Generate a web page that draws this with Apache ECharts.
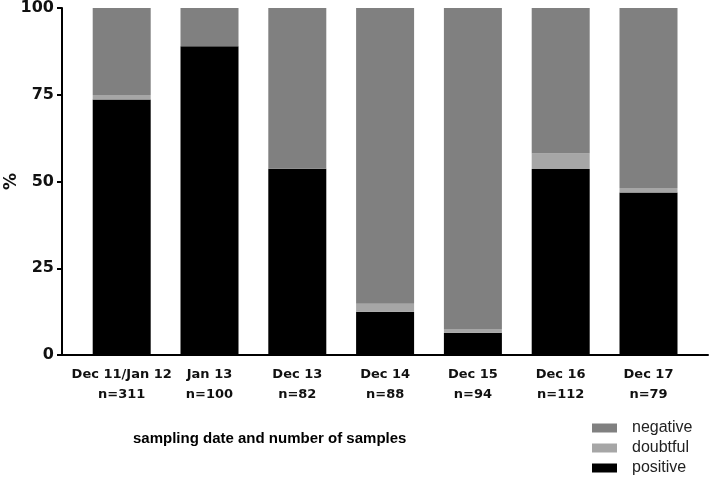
<!DOCTYPE html>
<html>
<head>
<meta charset="utf-8">
<script src="https://cdn.jsdelivr.net/npm/echarts@6/dist/echarts.min.js"></script>
<style>html,body{margin:0;padding:0;background:#fff;}#c{width:709px;height:477px;}</style>
</head>
<body>
<div id="c"></div>
<script>
const dates = ['Dec 11/Jan 12', 'Jan 13', 'Dec 13', 'Dec 14', 'Dec 15', 'Dec 16', 'Dec 17'];
const sampleCounts = ['n=311', 'n=100', 'n=82', 'n=88', 'n=94', 'n=112', 'n=79'];
const positive = [73.6, 89.0, 53.7, 12.5, 6.4, 53.6, 46.8];
const doubtful = [1.3, 0, 0, 2.3, 1.1, 4.5, 1.3];
const negative = [25.1, 11.0, 46.3, 85.2, 92.5, 41.9, 51.9];
const yTicks = [0, 25, 50, 75, 100];

const categories = dates.map((d, i) => d + '\n' + sampleCounts[i]);

const chart = echarts.init(document.getElementById('c'), null, {renderer: 'canvas'});
chart.setOption({
  animation: false,
  backgroundColor: '#fff',
  title: {
    text: 'sampling date and number of samples',
    left: 133, top: 431, padding: 0,
    textStyle: {fontFamily: 'Liberation Sans', fontWeight: 'bold', fontSize: 15, color: '#000'}
  },
  legend: {
    data: ['negative', 'doubtful', 'positive'],
    orient: 'vertical',
    left: 592, top: 420,
    padding: 0,
    itemWidth: 25, itemHeight: 9, itemGap: 4,
    icon: 'rect',
    textStyle: {fontFamily: 'Liberation Sans', fontSize: 16, color: '#222', lineHeight: 16, padding: [0, 0, 0, 10]}
  },
  grid: [
    {left: 62, right: 1, top: 8, bottom: 122, containLabel: false, outerBoundsMode: 'none'},
    {left: 77.8, right: 16.6, top: 8, bottom: 122, containLabel: false, outerBoundsMode: 'none'}
  ],
  xAxis: [
    {type: 'value', gridIndex: 0, min: 0, max: 1,
     axisLine: {show: true, lineStyle: {color: '#000', width: 2}},
     axisTick: {show: false}, axisLabel: {show: false}, splitLine: {show: false}},
    {type: 'category', gridIndex: 1, data: categories,
     axisLine: {show: false}, axisTick: {show: false},
     axisLabel: {interval: 0, margin: 10, fontFamily: 'DejaVu Sans', fontWeight: 'bold', fontSize: 13, lineHeight: 20, color: '#111', align: 'center'}}
  ],
  yAxis: [
    {type: 'value', gridIndex: 0, min: yTicks[0], max: yTicks[yTicks.length - 1], interval: 25,
     name: '%', nameLocation: 'middle', nameRotate: 90, nameGap: 42, nameMoveOverlap: false,
     nameTextStyle: {fontFamily: 'DejaVu Sans', fontWeight: 'bold', fontSize: 17, color: '#111'},
     axisLine: {show: true, lineStyle: {color: '#000', width: 2}},
     axisTick: {show: true, inside: false, length: 5, lineStyle: {color: '#000', width: 2}},
     axisLabel: {margin: 8, fontFamily: 'DejaVu Sans', fontWeight: 'bold', fontSize: 16, color: '#111'},
     splitLine: {show: false}},
    {type: 'value', gridIndex: 1, min: 0, max: 100, show: false, splitLine: {show: false}}
  ],
  series: [
    {name: 'positive', type: 'bar', stack: 'all', xAxisIndex: 1, yAxisIndex: 1, barWidth: 58,
     data: positive, itemStyle: {color: '#000000'}},
    {name: 'doubtful', type: 'bar', stack: 'all', xAxisIndex: 1, yAxisIndex: 1, barWidth: 58,
     data: doubtful, itemStyle: {color: '#a6a6a6'}},
    {name: 'negative', type: 'bar', stack: 'all', xAxisIndex: 1, yAxisIndex: 1, barWidth: 58,
     data: negative, itemStyle: {color: '#808080'}}
  ]
});
</script>
</body>
</html>
